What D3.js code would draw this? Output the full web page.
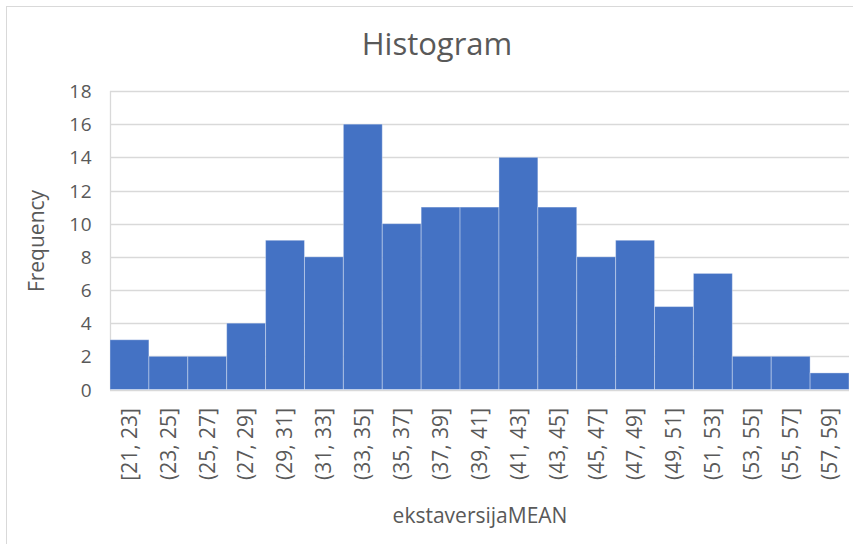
<!DOCTYPE html>
<html><head><meta charset="utf-8">
<script src="https://cdn.jsdelivr.net/npm/d3@7"></script>
<style>body{margin:0;background:#fff}svg{display:block;font-family:"Open Sans",sans-serif}</style>
</head><body>
<svg id="c" width="853" height="544"></svg>
<script>
const categories = ["[21, 23]","(23, 25]","(25, 27]","(27, 29]","(29, 31]","(31, 33]","(33, 35]","(35, 37]","(37, 39]","(39, 41]","(41, 43]","(43, 45]","(45, 47]","(47, 49]","(49, 51]","(51, 53]","(53, 55]","(55, 57]","(57, 59]"];
const frequencies = [3,2,2,4,9,8,16,10,11,11,14,11,8,9,5,7,2,2,1];
const yTicks = [0,2,4,6,8,10,12,14,16,18];
const title = "Histogram", xTitle = "ekstaversijaMEAN", yTitle = "Frequency";

const svg = d3.select("#c");
const m = {l:110, r:849, t:91, b:389.5};
// chart border
svg.append("rect").attr("x",6.5).attr("y",6.5).attr("width",853).attr("height",544)
  .attr("fill","none").attr("stroke","#d9d9d9").attr("stroke-width",1);

const x = d3.scaleBand().domain(categories).range([m.l,m.r]).padding(0);
const y = d3.scaleLinear().domain([0,18]).range([m.b,m.t]);

// gridlines
svg.append("g").selectAll("line").data(yTicks).join("line")
  .attr("x1",m.l).attr("x2",m.r).attr("y1",d=>Math.round(y(d))+0.5).attr("y2",d=>Math.round(y(d))+0.5)
  .attr("stroke","#d9d9d9").attr("stroke-width",1.3);
svg.append("line").attr("x1",m.l+0.5).attr("x2",m.l+0.5).attr("y1",m.t).attr("y2",m.b)
  .attr("stroke","#d9d9d9").attr("stroke-width",1.3);

// bars
svg.append("g").selectAll("rect").data(frequencies).join("rect")
  .attr("x",(d,i)=>x(categories[i])).attr("width",x.bandwidth())
  .attr("y",d=>y(d)).attr("height",d=>y(0)-y(d))
  .attr("fill","#4472c4").attr("stroke","rgba(255,255,255,0.35)").attr("stroke-width",1);

// y axis
const yAxis = d3.axisLeft(y).tickValues(yTicks).tickSize(0).tickPadding(0);
const ya = svg.append("g").attr("transform",`translate(92,0)`).call(yAxis);
ya.select(".domain").remove();
ya.selectAll("text").attr("font-size",19).attr("fill","#595959").attr("font-family","Open Sans")
  .attr("letter-spacing","0.5px").attr("dy","0.35em").attr("x",0);

// x axis labels
const xAxis = d3.axisBottom(x).tickSize(0).tickPadding(0);
const xa = svg.append("g").call(xAxis);
xa.select(".domain").remove();
xa.selectAll("text").attr("font-size",21).attr("fill","#595959").attr("font-family","Open Sans")
  .attr("text-anchor","end").attr("transform","rotate(-90)").attr("x",0).attr("y",0).attr("dy","0.35em");
xa.selectAll(".tick").attr("transform",d=>`translate(${x(d)+x.bandwidth()/2},408)`);

// titles
svg.append("text").attr("x",437).attr("y",55).attr("text-anchor","middle")
  .attr("font-size",31).attr("fill","#595959").text(title);
svg.append("text").attr("x",480).attr("y",523).attr("text-anchor","middle")
  .attr("font-size",21).attr("fill","#595959").text(xTitle);
svg.append("text").attr("transform","translate(44,241) rotate(-90)").attr("text-anchor","middle")
  .attr("font-size",21).attr("fill","#595959").text(yTitle);
</script>
</body></html>
